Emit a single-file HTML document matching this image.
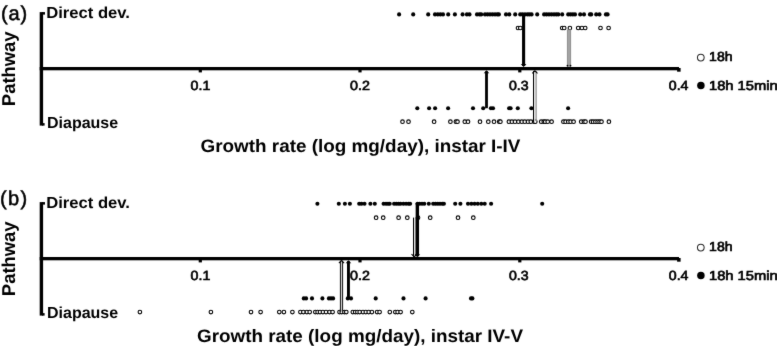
<!DOCTYPE html><html><head><meta charset="utf-8"><style>html,body{margin:0;padding:0;background:#fff;}svg{display:block;}text{font-family:"Liberation Sans", sans-serif;fill:#000;}</style></head><body>
<svg width="777" height="346" viewBox="0 0 777 346" text-rendering="geometricPrecision">
<defs><filter id="soft" x="0" y="0" width="100%" height="100%" color-interpolation-filters="sRGB"><feConvolveMatrix order="3" kernelMatrix="0.01 0.065 0.01 0.065 0.70 0.065 0.01 0.065 0.01" edgeMode="duplicate"/></filter></defs>
<g filter="url(#soft)">
<rect width="777" height="346" fill="#fff"/>
<text x="1.0" y="19.6" font-size="20" font-weight="normal" letter-spacing="0.9" stroke="#000" stroke-width="0.55">(a)</text>
<text transform="translate(15.2 106.13) rotate(-90)" font-size="18.6" font-weight="bold" textLength="74.7" lengthAdjust="spacingAndGlyphs">Pathway</text>
<rect x="39.7" y="12.1" width="3.4" height="113.5" fill="#000"/>
<rect x="42" y="12.1" width="3" height="2.5" fill="#000"/>
<rect x="42" y="123.1" width="2.6" height="2.5" fill="#000"/>
<rect x="39.7" y="67" width="639.3" height="3.3" fill="#000"/>
<rect x="198.70000000000002" y="69" width="3.2" height="3.4" fill="#000"/>
<rect x="358.4" y="69" width="3.2" height="3.4" fill="#000"/>
<rect x="518.1999999999999" y="69" width="3.2" height="3.4" fill="#000"/>
<rect x="677.1" y="68" width="3.5" height="3.7" fill="#000"/>
<text x="46.15" y="18.3" font-size="15.9" font-weight="bold" textLength="83.8" lengthAdjust="spacingAndGlyphs">Direct dev.</text>
<text x="46.97" y="128.3" font-size="15.9" font-weight="bold" textLength="71.2" lengthAdjust="spacingAndGlyphs">Diapause</text>
<text x="190.58" y="89.5" font-size="13.2" font-weight="normal" textLength="19.74" lengthAdjust="spacingAndGlyphs" stroke="#000" stroke-width="0.65">0.1</text>
<text x="349.98" y="89.5" font-size="13.2" font-weight="normal" textLength="19.88" lengthAdjust="spacingAndGlyphs" stroke="#000" stroke-width="0.65">0.2</text>
<text x="508.98" y="89.5" font-size="13.2" font-weight="normal" textLength="19.65" lengthAdjust="spacingAndGlyphs" stroke="#000" stroke-width="0.65">0.3</text>
<text x="668.78" y="89.5" font-size="13.2" font-weight="normal" textLength="19.67" lengthAdjust="spacingAndGlyphs" stroke="#000" stroke-width="0.65">0.4</text>
<circle cx="700.8" cy="57.6" r="3.35" fill="#fff" stroke="#2a2a2a" stroke-width="1.05"/>
<text x="709.14" y="60.6" font-size="13.0" font-weight="normal" textLength="23.47" lengthAdjust="spacingAndGlyphs" stroke="#000" stroke-width="0.65">18h</text>
<circle cx="700.9" cy="85.5" r="3.75" fill="#000"/>
<text x="708.98" y="89.5" font-size="13.0" font-weight="normal" textLength="68.7" lengthAdjust="spacingAndGlyphs" stroke="#000" stroke-width="0.65">18h 15min</text>
<text x="200.55" y="151.6" font-size="18.0" font-weight="bold" textLength="319.9" lengthAdjust="spacingAndGlyphs">Growth rate (log mg/day), instar I-IV</text>
<circle cx="399.1" cy="14.4" r="2.05" fill="#000"/>
<circle cx="413.2" cy="14.4" r="2.05" fill="#000"/>
<circle cx="428.2" cy="14.4" r="2.05" fill="#000"/>
<circle cx="435.0" cy="14.4" r="2.05" fill="#000"/>
<circle cx="437.8" cy="14.4" r="2.05" fill="#000"/>
<circle cx="440.4" cy="14.4" r="2.05" fill="#000"/>
<circle cx="443.0" cy="14.4" r="2.05" fill="#000"/>
<circle cx="448.2" cy="14.4" r="2.05" fill="#000"/>
<circle cx="454.9" cy="14.4" r="2.05" fill="#000"/>
<circle cx="462.6" cy="14.4" r="2.05" fill="#000"/>
<circle cx="466.9" cy="14.4" r="2.05" fill="#000"/>
<circle cx="469.5" cy="14.4" r="2.05" fill="#000"/>
<circle cx="477.0" cy="14.4" r="2.05" fill="#000"/>
<circle cx="479.5" cy="14.4" r="2.05" fill="#000"/>
<circle cx="481.2" cy="14.4" r="2.05" fill="#000"/>
<circle cx="485.0" cy="14.4" r="2.05" fill="#000"/>
<circle cx="487.5" cy="14.4" r="2.05" fill="#000"/>
<circle cx="490.0" cy="14.4" r="2.05" fill="#000"/>
<circle cx="492.5" cy="14.4" r="2.05" fill="#000"/>
<circle cx="495.0" cy="14.4" r="2.05" fill="#000"/>
<circle cx="497.3" cy="14.4" r="2.05" fill="#000"/>
<circle cx="498.9" cy="14.4" r="2.05" fill="#000"/>
<circle cx="506.0" cy="14.4" r="2.05" fill="#000"/>
<circle cx="509.3" cy="14.4" r="2.05" fill="#000"/>
<circle cx="515.2" cy="14.4" r="2.05" fill="#000"/>
<circle cx="520.2" cy="14.4" r="2.05" fill="#000"/>
<circle cx="522.5" cy="14.4" r="2.05" fill="#000"/>
<circle cx="525.0" cy="14.4" r="2.05" fill="#000"/>
<circle cx="527.5" cy="14.4" r="2.05" fill="#000"/>
<circle cx="529.5" cy="14.4" r="2.05" fill="#000"/>
<circle cx="531.6" cy="14.4" r="2.05" fill="#000"/>
<circle cx="537.2" cy="14.4" r="2.05" fill="#000"/>
<circle cx="544.1" cy="14.4" r="2.05" fill="#000"/>
<circle cx="546.5" cy="14.4" r="2.05" fill="#000"/>
<circle cx="549.0" cy="14.4" r="2.05" fill="#000"/>
<circle cx="551.5" cy="14.4" r="2.05" fill="#000"/>
<circle cx="554.0" cy="14.4" r="2.05" fill="#000"/>
<circle cx="556.3" cy="14.4" r="2.05" fill="#000"/>
<circle cx="558.3" cy="14.4" r="2.05" fill="#000"/>
<circle cx="562.2" cy="14.4" r="2.05" fill="#000"/>
<circle cx="568.2" cy="14.4" r="2.05" fill="#000"/>
<circle cx="570.5" cy="14.4" r="2.05" fill="#000"/>
<circle cx="572.8" cy="14.4" r="2.05" fill="#000"/>
<circle cx="575.0" cy="14.4" r="2.05" fill="#000"/>
<circle cx="580.2" cy="14.4" r="2.05" fill="#000"/>
<circle cx="584.0" cy="14.4" r="2.05" fill="#000"/>
<circle cx="589.9" cy="14.4" r="2.05" fill="#000"/>
<circle cx="591.2" cy="14.4" r="2.05" fill="#000"/>
<circle cx="596.2" cy="14.4" r="2.05" fill="#000"/>
<circle cx="599.5" cy="14.4" r="2.05" fill="#000"/>
<circle cx="605.9" cy="14.4" r="2.05" fill="#000"/>
<circle cx="607.6" cy="14.4" r="2.05" fill="#000"/>
<circle cx="518.0" cy="28.0" r="1.8" fill="#fff" stroke="#000" stroke-width="1.1"/>
<circle cx="520.3" cy="28.0" r="1.8" fill="#fff" stroke="#000" stroke-width="1.1"/>
<circle cx="562.2" cy="28.0" r="1.8" fill="#fff" stroke="#000" stroke-width="1.1"/>
<circle cx="564.2" cy="28.0" r="1.8" fill="#fff" stroke="#000" stroke-width="1.1"/>
<circle cx="569.9" cy="28.0" r="1.8" fill="#fff" stroke="#000" stroke-width="1.1"/>
<circle cx="578.2" cy="28.0" r="1.8" fill="#fff" stroke="#000" stroke-width="1.1"/>
<circle cx="581.9" cy="28.0" r="1.8" fill="#fff" stroke="#000" stroke-width="1.1"/>
<circle cx="585.2" cy="28.0" r="1.8" fill="#fff" stroke="#000" stroke-width="1.1"/>
<circle cx="600.5" cy="28.0" r="1.8" fill="#fff" stroke="#000" stroke-width="1.1"/>
<circle cx="608.6" cy="28.0" r="1.8" fill="#fff" stroke="#000" stroke-width="1.1"/>
<circle cx="417.3" cy="108.2" r="2.05" fill="#000"/>
<circle cx="429.1" cy="108.2" r="2.05" fill="#000"/>
<circle cx="435.1" cy="108.2" r="2.05" fill="#000"/>
<circle cx="448.1" cy="108.2" r="2.05" fill="#000"/>
<circle cx="473.0" cy="108.2" r="2.05" fill="#000"/>
<circle cx="483.2" cy="108.2" r="2.05" fill="#000"/>
<circle cx="490.9" cy="108.2" r="2.05" fill="#000"/>
<circle cx="493.0" cy="108.2" r="2.05" fill="#000"/>
<circle cx="509.1" cy="108.2" r="2.05" fill="#000"/>
<circle cx="510.6" cy="108.2" r="2.05" fill="#000"/>
<circle cx="517.8" cy="108.2" r="2.05" fill="#000"/>
<circle cx="531.4" cy="108.2" r="2.05" fill="#000"/>
<circle cx="568.1" cy="108.2" r="2.05" fill="#000"/>
<circle cx="402.5" cy="121.7" r="1.8" fill="#fff" stroke="#000" stroke-width="1.1"/>
<circle cx="408.5" cy="121.7" r="1.8" fill="#fff" stroke="#000" stroke-width="1.1"/>
<circle cx="434.1" cy="121.7" r="1.8" fill="#fff" stroke="#000" stroke-width="1.1"/>
<circle cx="450.4" cy="121.7" r="1.8" fill="#fff" stroke="#000" stroke-width="1.1"/>
<circle cx="455.9" cy="121.7" r="1.8" fill="#fff" stroke="#000" stroke-width="1.1"/>
<circle cx="457.5" cy="121.7" r="1.8" fill="#fff" stroke="#000" stroke-width="1.1"/>
<circle cx="464.8" cy="121.7" r="1.8" fill="#fff" stroke="#000" stroke-width="1.1"/>
<circle cx="468.0" cy="121.7" r="1.8" fill="#fff" stroke="#000" stroke-width="1.1"/>
<circle cx="480.0" cy="121.7" r="1.8" fill="#fff" stroke="#000" stroke-width="1.1"/>
<circle cx="488.3" cy="121.7" r="1.8" fill="#fff" stroke="#000" stroke-width="1.1"/>
<circle cx="494.0" cy="121.7" r="1.8" fill="#fff" stroke="#000" stroke-width="1.1"/>
<circle cx="499.2" cy="121.7" r="1.8" fill="#fff" stroke="#000" stroke-width="1.1"/>
<circle cx="500.4" cy="121.7" r="1.8" fill="#fff" stroke="#000" stroke-width="1.1"/>
<circle cx="508.9" cy="121.7" r="1.8" fill="#fff" stroke="#000" stroke-width="1.1"/>
<circle cx="511.9" cy="121.7" r="1.8" fill="#fff" stroke="#000" stroke-width="1.1"/>
<circle cx="515.0" cy="121.7" r="1.8" fill="#fff" stroke="#000" stroke-width="1.1"/>
<circle cx="518.4" cy="121.7" r="1.8" fill="#fff" stroke="#000" stroke-width="1.1"/>
<circle cx="521.8" cy="121.7" r="1.8" fill="#fff" stroke="#000" stroke-width="1.1"/>
<circle cx="524.8" cy="121.7" r="1.8" fill="#fff" stroke="#000" stroke-width="1.1"/>
<circle cx="528.0" cy="121.7" r="1.8" fill="#fff" stroke="#000" stroke-width="1.1"/>
<circle cx="530.8" cy="121.7" r="1.8" fill="#fff" stroke="#000" stroke-width="1.1"/>
<circle cx="534.2" cy="121.7" r="1.8" fill="#fff" stroke="#000" stroke-width="1.1"/>
<circle cx="535.3" cy="121.7" r="1.8" fill="#fff" stroke="#000" stroke-width="1.1"/>
<circle cx="541.2" cy="121.7" r="1.8" fill="#fff" stroke="#000" stroke-width="1.1"/>
<circle cx="543.8" cy="121.7" r="1.8" fill="#fff" stroke="#000" stroke-width="1.1"/>
<circle cx="545.2" cy="121.7" r="1.8" fill="#fff" stroke="#000" stroke-width="1.1"/>
<circle cx="547.7" cy="121.7" r="1.8" fill="#fff" stroke="#000" stroke-width="1.1"/>
<circle cx="551.6" cy="121.7" r="1.8" fill="#fff" stroke="#000" stroke-width="1.1"/>
<circle cx="563.4" cy="121.7" r="1.8" fill="#fff" stroke="#000" stroke-width="1.1"/>
<circle cx="565.6" cy="121.7" r="1.8" fill="#fff" stroke="#000" stroke-width="1.1"/>
<circle cx="568.3" cy="121.7" r="1.8" fill="#fff" stroke="#000" stroke-width="1.1"/>
<circle cx="570.6" cy="121.7" r="1.8" fill="#fff" stroke="#000" stroke-width="1.1"/>
<circle cx="573.6" cy="121.7" r="1.8" fill="#fff" stroke="#000" stroke-width="1.1"/>
<circle cx="581.2" cy="121.7" r="1.8" fill="#fff" stroke="#000" stroke-width="1.1"/>
<circle cx="583.9" cy="121.7" r="1.8" fill="#fff" stroke="#000" stroke-width="1.1"/>
<circle cx="585.5" cy="121.7" r="1.8" fill="#fff" stroke="#000" stroke-width="1.1"/>
<circle cx="591.1" cy="121.7" r="1.8" fill="#fff" stroke="#000" stroke-width="1.1"/>
<circle cx="593.1" cy="121.7" r="1.8" fill="#fff" stroke="#000" stroke-width="1.1"/>
<circle cx="595.4" cy="121.7" r="1.8" fill="#fff" stroke="#000" stroke-width="1.1"/>
<circle cx="597.6" cy="121.7" r="1.8" fill="#fff" stroke="#000" stroke-width="1.1"/>
<circle cx="599.6" cy="121.7" r="1.8" fill="#fff" stroke="#000" stroke-width="1.1"/>
<circle cx="601.5" cy="121.7" r="1.8" fill="#fff" stroke="#000" stroke-width="1.1"/>
<circle cx="608.9" cy="121.7" r="1.8" fill="#fff" stroke="#000" stroke-width="1.1"/>
<rect x="522.05" y="14.4" width="3.1" height="51.60" fill="#000"/>
<path d="M520.80 64.00 L526.40 64.00 L523.60 67.0 Z" fill="#000"/>
<rect x="566.95" y="29.5" width="4.1" height="37.40" fill="#a3a3a3"/>
<rect x="566.95" y="29.5" width="0.7" height="37.40" fill="#8a8a8a"/>
<rect x="570.35" y="29.5" width="0.7" height="37.40" fill="#8a8a8a"/>
<circle cx="567.50" cy="65.60" r="0.9" fill="#000"/>
<circle cx="570.50" cy="65.60" r="0.9" fill="#000"/>
<rect x="485.10" y="71.30" width="2.8" height="36.90" fill="#000"/>
<path d="M483.70 73.30 L489.30 73.30 L486.50 70.3 Z" fill="#000"/>
<rect x="534.10" y="70.90" width="1.30" height="50.10" fill="#fff"/>
<rect x="533.00" y="70.90" width="1.10" height="50.10" fill="#000"/>
<rect x="535.40" y="70.90" width="1.40" height="50.10" fill="#9a9a9a"/>
<path d="M532.30 73.40 L534.90 70.80 L537.50 73.40" stroke="#000" stroke-width="1.1" fill="none"/>
<text x="0.0" y="204.7" font-size="20" font-weight="normal" letter-spacing="1.3" stroke="#000" stroke-width="0.55">(b)</text>
<text transform="translate(15.2 296.13) rotate(-90)" font-size="18.6" font-weight="bold" textLength="74.7" lengthAdjust="spacingAndGlyphs">Pathway</text>
<rect x="39.7" y="202.1" width="3.4" height="113.5" fill="#000"/>
<rect x="42" y="202.1" width="3" height="2.5" fill="#000"/>
<rect x="42" y="313.1" width="2.6" height="2.5" fill="#000"/>
<rect x="39.7" y="257" width="639.3" height="3.3" fill="#000"/>
<rect x="198.70000000000002" y="259" width="3.2" height="3.4" fill="#000"/>
<rect x="358.4" y="259" width="3.2" height="3.4" fill="#000"/>
<rect x="518.1999999999999" y="259" width="3.2" height="3.4" fill="#000"/>
<rect x="677.1" y="258" width="3.5" height="3.7" fill="#000"/>
<text x="46.15" y="208.3" font-size="15.9" font-weight="bold" textLength="83.8" lengthAdjust="spacingAndGlyphs">Direct dev.</text>
<text x="46.97" y="318.3" font-size="15.9" font-weight="bold" textLength="71.2" lengthAdjust="spacingAndGlyphs">Diapause</text>
<text x="190.58" y="279.5" font-size="13.2" font-weight="normal" textLength="19.74" lengthAdjust="spacingAndGlyphs" stroke="#000" stroke-width="0.65">0.1</text>
<text x="349.98" y="279.5" font-size="13.2" font-weight="normal" textLength="19.88" lengthAdjust="spacingAndGlyphs" stroke="#000" stroke-width="0.65">0.2</text>
<text x="508.98" y="279.5" font-size="13.2" font-weight="normal" textLength="19.65" lengthAdjust="spacingAndGlyphs" stroke="#000" stroke-width="0.65">0.3</text>
<text x="668.78" y="279.5" font-size="13.2" font-weight="normal" textLength="19.67" lengthAdjust="spacingAndGlyphs" stroke="#000" stroke-width="0.65">0.4</text>
<circle cx="700.8" cy="247.6" r="3.35" fill="#fff" stroke="#2a2a2a" stroke-width="1.05"/>
<text x="709.14" y="250.6" font-size="13.0" font-weight="normal" textLength="23.47" lengthAdjust="spacingAndGlyphs" stroke="#000" stroke-width="0.65">18h</text>
<circle cx="700.9" cy="275.5" r="3.75" fill="#000"/>
<text x="708.98" y="279.5" font-size="13.0" font-weight="normal" textLength="68.7" lengthAdjust="spacingAndGlyphs" stroke="#000" stroke-width="0.65">18h 15min</text>
<text x="196.98" y="341.6" font-size="18.0" font-weight="bold" textLength="326.0" lengthAdjust="spacingAndGlyphs">Growth rate (log mg/day), instar IV-V</text>
<circle cx="317.4" cy="203.75" r="2.05" fill="#000"/>
<circle cx="338.8" cy="203.75" r="2.05" fill="#000"/>
<circle cx="344.9" cy="203.75" r="2.05" fill="#000"/>
<circle cx="349.9" cy="203.75" r="2.05" fill="#000"/>
<circle cx="359.2" cy="203.75" r="2.05" fill="#000"/>
<circle cx="361.5" cy="203.75" r="2.05" fill="#000"/>
<circle cx="364.5" cy="203.75" r="2.05" fill="#000"/>
<circle cx="370.4" cy="203.75" r="2.05" fill="#000"/>
<circle cx="374.8" cy="203.75" r="2.05" fill="#000"/>
<circle cx="383.6" cy="203.75" r="2.05" fill="#000"/>
<circle cx="386.0" cy="203.75" r="2.05" fill="#000"/>
<circle cx="388.0" cy="203.75" r="2.05" fill="#000"/>
<circle cx="389.7" cy="203.75" r="2.05" fill="#000"/>
<circle cx="394.1" cy="203.75" r="2.05" fill="#000"/>
<circle cx="396.3" cy="203.75" r="2.05" fill="#000"/>
<circle cx="398.5" cy="203.75" r="2.05" fill="#000"/>
<circle cx="400.5" cy="203.75" r="2.05" fill="#000"/>
<circle cx="403.4" cy="203.75" r="2.05" fill="#000"/>
<circle cx="406.1" cy="203.75" r="2.05" fill="#000"/>
<circle cx="408.6" cy="203.75" r="2.05" fill="#000"/>
<circle cx="410.1" cy="203.75" r="2.05" fill="#000"/>
<circle cx="417.5" cy="203.75" r="2.05" fill="#000"/>
<circle cx="419.5" cy="203.75" r="2.05" fill="#000"/>
<circle cx="422.0" cy="203.75" r="2.05" fill="#000"/>
<circle cx="424.3" cy="203.75" r="2.05" fill="#000"/>
<circle cx="428.8" cy="203.75" r="2.05" fill="#000"/>
<circle cx="433.2" cy="203.75" r="2.05" fill="#000"/>
<circle cx="435.5" cy="203.75" r="2.05" fill="#000"/>
<circle cx="437.8" cy="203.75" r="2.05" fill="#000"/>
<circle cx="440.0" cy="203.75" r="2.05" fill="#000"/>
<circle cx="442.3" cy="203.75" r="2.05" fill="#000"/>
<circle cx="443.9" cy="203.75" r="2.05" fill="#000"/>
<circle cx="455.2" cy="203.75" r="2.05" fill="#000"/>
<circle cx="460.4" cy="203.75" r="2.05" fill="#000"/>
<circle cx="468.0" cy="203.75" r="2.05" fill="#000"/>
<circle cx="471.4" cy="203.75" r="2.05" fill="#000"/>
<circle cx="474.6" cy="203.75" r="2.05" fill="#000"/>
<circle cx="477.8" cy="203.75" r="2.05" fill="#000"/>
<circle cx="481.3" cy="203.75" r="2.05" fill="#000"/>
<circle cx="484.7" cy="203.75" r="2.05" fill="#000"/>
<circle cx="491.1" cy="203.75" r="2.05" fill="#000"/>
<circle cx="542.2" cy="203.75" r="2.05" fill="#000"/>
<circle cx="376.1" cy="217.7" r="1.8" fill="#fff" stroke="#000" stroke-width="1.1"/>
<circle cx="383.2" cy="217.7" r="1.8" fill="#fff" stroke="#000" stroke-width="1.1"/>
<circle cx="398.6" cy="217.7" r="1.8" fill="#fff" stroke="#000" stroke-width="1.1"/>
<circle cx="407.3" cy="217.7" r="1.8" fill="#fff" stroke="#000" stroke-width="1.1"/>
<circle cx="418.0" cy="217.7" r="1.8" fill="#fff" stroke="#000" stroke-width="1.1"/>
<circle cx="430.2" cy="217.7" r="1.8" fill="#fff" stroke="#000" stroke-width="1.1"/>
<circle cx="458.0" cy="217.7" r="1.8" fill="#fff" stroke="#000" stroke-width="1.1"/>
<circle cx="473.3" cy="217.7" r="1.8" fill="#fff" stroke="#000" stroke-width="1.1"/>
<circle cx="303.8" cy="298.4" r="2.05" fill="#000"/>
<circle cx="306.1" cy="298.4" r="2.05" fill="#000"/>
<circle cx="312.0" cy="298.4" r="2.05" fill="#000"/>
<circle cx="322.4" cy="298.4" r="2.05" fill="#000"/>
<circle cx="328.9" cy="298.4" r="2.05" fill="#000"/>
<circle cx="331.0" cy="298.4" r="2.05" fill="#000"/>
<circle cx="333.1" cy="298.4" r="2.05" fill="#000"/>
<circle cx="347.8" cy="298.4" r="2.05" fill="#000"/>
<circle cx="351.0" cy="298.4" r="2.05" fill="#000"/>
<circle cx="375.7" cy="298.4" r="2.05" fill="#000"/>
<circle cx="403.5" cy="298.4" r="2.05" fill="#000"/>
<circle cx="425.6" cy="298.4" r="2.05" fill="#000"/>
<circle cx="471.0" cy="298.4" r="2.05" fill="#000"/>
<circle cx="472.4" cy="298.4" r="2.05" fill="#000"/>
<circle cx="139.9" cy="312.05" r="1.8" fill="#fff" stroke="#000" stroke-width="1.1"/>
<circle cx="210.9" cy="312.05" r="1.8" fill="#fff" stroke="#000" stroke-width="1.1"/>
<circle cx="251.0" cy="312.05" r="1.8" fill="#fff" stroke="#000" stroke-width="1.1"/>
<circle cx="260.6" cy="312.05" r="1.8" fill="#fff" stroke="#000" stroke-width="1.1"/>
<circle cx="279.3" cy="312.05" r="1.8" fill="#fff" stroke="#000" stroke-width="1.1"/>
<circle cx="283.9" cy="312.05" r="1.8" fill="#fff" stroke="#000" stroke-width="1.1"/>
<circle cx="292.4" cy="312.05" r="1.8" fill="#fff" stroke="#000" stroke-width="1.1"/>
<circle cx="300.4" cy="312.05" r="1.8" fill="#fff" stroke="#000" stroke-width="1.1"/>
<circle cx="303.4" cy="312.05" r="1.8" fill="#fff" stroke="#000" stroke-width="1.1"/>
<circle cx="306.9" cy="312.05" r="1.8" fill="#fff" stroke="#000" stroke-width="1.1"/>
<circle cx="309.7" cy="312.05" r="1.8" fill="#fff" stroke="#000" stroke-width="1.1"/>
<circle cx="315.3" cy="312.05" r="1.8" fill="#fff" stroke="#000" stroke-width="1.1"/>
<circle cx="317.6" cy="312.05" r="1.8" fill="#fff" stroke="#000" stroke-width="1.1"/>
<circle cx="320.0" cy="312.05" r="1.8" fill="#fff" stroke="#000" stroke-width="1.1"/>
<circle cx="322.9" cy="312.05" r="1.8" fill="#fff" stroke="#000" stroke-width="1.1"/>
<circle cx="326.0" cy="312.05" r="1.8" fill="#fff" stroke="#000" stroke-width="1.1"/>
<circle cx="329.5" cy="312.05" r="1.8" fill="#fff" stroke="#000" stroke-width="1.1"/>
<circle cx="332.6" cy="312.05" r="1.8" fill="#fff" stroke="#000" stroke-width="1.1"/>
<circle cx="339.5" cy="312.05" r="1.8" fill="#fff" stroke="#000" stroke-width="1.1"/>
<circle cx="341.7" cy="312.05" r="1.8" fill="#fff" stroke="#000" stroke-width="1.1"/>
<circle cx="344.4" cy="312.05" r="1.8" fill="#fff" stroke="#000" stroke-width="1.1"/>
<circle cx="346.3" cy="312.05" r="1.8" fill="#fff" stroke="#000" stroke-width="1.1"/>
<circle cx="352.8" cy="312.05" r="1.8" fill="#fff" stroke="#000" stroke-width="1.1"/>
<circle cx="355.2" cy="312.05" r="1.8" fill="#fff" stroke="#000" stroke-width="1.1"/>
<circle cx="357.4" cy="312.05" r="1.8" fill="#fff" stroke="#000" stroke-width="1.1"/>
<circle cx="359.7" cy="312.05" r="1.8" fill="#fff" stroke="#000" stroke-width="1.1"/>
<circle cx="363.0" cy="312.05" r="1.8" fill="#fff" stroke="#000" stroke-width="1.1"/>
<circle cx="365.8" cy="312.05" r="1.8" fill="#fff" stroke="#000" stroke-width="1.1"/>
<circle cx="368.7" cy="312.05" r="1.8" fill="#fff" stroke="#000" stroke-width="1.1"/>
<circle cx="371.9" cy="312.05" r="1.8" fill="#fff" stroke="#000" stroke-width="1.1"/>
<circle cx="377.1" cy="312.05" r="1.8" fill="#fff" stroke="#000" stroke-width="1.1"/>
<circle cx="379.6" cy="312.05" r="1.8" fill="#fff" stroke="#000" stroke-width="1.1"/>
<circle cx="389.8" cy="312.05" r="1.8" fill="#fff" stroke="#000" stroke-width="1.1"/>
<circle cx="395.3" cy="312.05" r="1.8" fill="#fff" stroke="#000" stroke-width="1.1"/>
<circle cx="397.6" cy="312.05" r="1.8" fill="#fff" stroke="#000" stroke-width="1.1"/>
<circle cx="400.6" cy="312.05" r="1.8" fill="#fff" stroke="#000" stroke-width="1.1"/>
<circle cx="412.3" cy="312.05" r="1.8" fill="#fff" stroke="#000" stroke-width="1.1"/>
<rect x="414.10" y="217.60" width="0.90" height="39.10" fill="#fff"/>
<rect x="413.00" y="217.60" width="1.10" height="39.10" fill="#000"/>
<rect x="415.00" y="217.60" width="0.30" height="39.10" fill="#000"/>
<path d="M411.55 254.20 L414.15 256.80 L416.75 254.20" stroke="#000" stroke-width="1.1" fill="none"/>
<rect x="415.65" y="203.0" width="3.4" height="53.20" fill="#000"/>
<path d="M414.55 254.20 L420.15 254.20 L417.35 257.2 Z" fill="#000"/>
<rect x="347.00" y="261.20" width="2.9" height="37.20" fill="#000"/>
<path d="M345.65 263.20 L351.25 263.20 L348.45 260.2 Z" fill="#000"/>
<rect x="341.10" y="260.70" width="0.80" height="51.30" fill="#fff"/>
<rect x="339.90" y="260.70" width="1.20" height="51.30" fill="#222"/>
<rect x="341.90" y="260.70" width="1.20" height="51.30" fill="#222"/>
<path d="M338.90 263.20 L341.50 260.60 L344.10 263.20" stroke="#000" stroke-width="1.1" fill="none"/>
</g></svg></body></html>
